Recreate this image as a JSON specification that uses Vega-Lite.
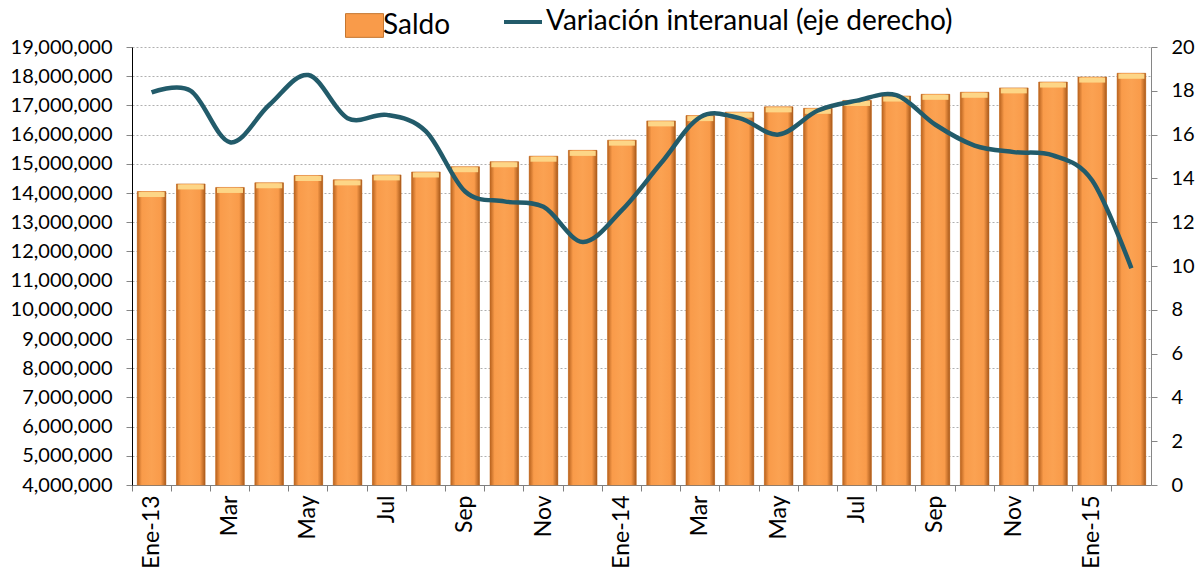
{
  "$schema": "https://vega.github.io/schema/vega-lite/v6.json",
  "width": 1019,
  "height": 438,
  "autosize": {"type": "none"},
  "padding": {"left": 132, "top": 47, "right": 53, "bottom": 92},
  "background": "white",
  "config": {"font": "Lato", "view": {"stroke": null}},
  "data": {
    "values": [
      {"mes": "2013-01", "saldo": 14050000, "var": 17.93},
      {"mes": "2013-02", "saldo": 14310000, "var": 18.0},
      {"mes": "2013-03", "saldo": 14190000, "var": 15.65},
      {"mes": "2013-04", "saldo": 14350000, "var": 17.35},
      {"mes": "2013-05", "saldo": 14600000, "var": 18.72},
      {"mes": "2013-06", "saldo": 14450000, "var": 16.75},
      {"mes": "2013-07", "saldo": 14620000, "var": 16.9},
      {"mes": "2013-08", "saldo": 14720000, "var": 16.15},
      {"mes": "2013-09", "saldo": 14900000, "var": 13.4},
      {"mes": "2013-10", "saldo": 15070000, "var": 12.95},
      {"mes": "2013-11", "saldo": 15260000, "var": 12.7},
      {"mes": "2013-12", "saldo": 15460000, "var": 11.1},
      {"mes": "2014-01", "saldo": 15810000, "var": 12.55},
      {"mes": "2014-02", "saldo": 16470000, "var": 14.7},
      {"mes": "2014-03", "saldo": 16650000, "var": 16.8},
      {"mes": "2014-04", "saldo": 16770000, "var": 16.75},
      {"mes": "2014-05", "saldo": 16950000, "var": 16.0},
      {"mes": "2014-06", "saldo": 16900000, "var": 17.1},
      {"mes": "2014-07", "saldo": 17170000, "var": 17.55},
      {"mes": "2014-08", "saldo": 17320000, "var": 17.8},
      {"mes": "2014-09", "saldo": 17380000, "var": 16.45},
      {"mes": "2014-10", "saldo": 17450000, "var": 15.5},
      {"mes": "2014-11", "saldo": 17600000, "var": 15.2},
      {"mes": "2014-12", "saldo": 17800000, "var": 15.05},
      {"mes": "2015-01", "saldo": 17970000, "var": 13.9},
      {"mes": "2015-02", "saldo": 18100000, "var": 9.9}
    ]
  },
  "encoding": {
    "x": {
      "field": "mes",
      "type": "ordinal",
      "sort": null,
      "scale": {"paddingInner": 0, "paddingOuter": 0},
      "axis": {
        "title": null,
        "bandPosition": 0,
        "labelAngle": 270,
        "labelAlign": "right",
        "labelBaseline": "middle",
        "labelFont": "Lato",
        "labelFontSize": 23,
        "labelColor": "#000000",
        "labelPadding": 4,
        "tickSize": 6,
        "tickColor": "#7F7F7F",
        "domainColor": "#7F7F7F",
        "grid": false,
        "labelExpr": "toNumber(substring(datum.value,5,7)) % 2 == 1 ? (toNumber(substring(datum.value,5,7)) == 1 ? 'Ene-' + substring(datum.value,2,4) : ['','Ene','Feb','Mar','Abr','May','Jun','Jul','Ago','Sep','Oct','Nov','Dic'][toNumber(substring(datum.value,5,7))]) : ''"
      }
    }
  },
  "layer": [
    {
      "encoding": {
        "y": {
          "field": "saldo",
          "type": "quantitative",
          "scale": {"domain": [4000000, 19000000], "nice": false, "zero": false},
          "axis": {
            "title": null,
            "values": [4000000, 5000000, 6000000, 7000000, 8000000, 9000000, 10000000, 11000000, 12000000, 13000000, 14000000, 15000000, 16000000, 17000000, 18000000, 19000000],
            "format": ",d",
            "labelFont": "Lato",
            "labelFontSize": 20,
            "labelColor": "#000000",
            "labelPadding": 14,
            "tickSize": 6,
            "tickColor": "#868686",
            "domainColor": "#000000",
            "grid": true,
            "gridColor": "#B0B0B0",
            "gridDash": [2, 2]
          }
        },
        "y2": {"datum": 4000000}
      },
      "layer": [
        {
          "mark": {"type": "bar", "width": {"band": 0.73}, "stroke": "#C5762F", "strokeWidth": 0.6},
          "encoding": {
            "fill": {
              "datum": "Saldo",
              "type": "nominal",
              "scale": {"range": ["#F99B4A"]},
              "legend": {
                "orient": "none",
                "legendX": 208,
                "legendY": -46,
                "title": null,
                "padding": 0,
                "symbolType": "M-0.8,-0.5H0.8V0.5H-0.8Z",
                "symbolSize": 2256,
                "symbolStrokeColor": "#C5762F",
                "symbolStrokeWidth": 1,
                "symbolOpacity": 1,
                "labelFont": "Lato",
                "labelFontSize": 28,
                "labelColor": "#000000",
                "labelOffset": -6,
                "labelLimit": 0
              }
            }
          }
        },
        {
          "mark": {
            "type": "bar",
            "width": {"band": 0.73},
            "fill": {
              "gradient": "linear", "x1": 0, "x2": 1, "y1": 0, "y2": 0,
              "stops": [
                {"offset": 0, "color": "#B8621E"},
                {"offset": 0.16, "color": "#F99B4A"},
                {"offset": 0.5, "color": "#FBA252"},
                {"offset": 0.82, "color": "#F99B4A"},
                {"offset": 1, "color": "#A9591A"}
              ]
            }
          },
          "encoding": {}
        },
        {
          "mark": {"type": "tick", "size": 26, "thickness": 5, "yOffset": 3, "color": "#FDD98A", "opacity": 0.95},
          "encoding": {"y2": null}
        }
      ]
    },
    {
      "mark": {"type": "line", "interpolate": "cardinal", "strokeWidth": 4.5},
      "encoding": {
        "y": {
          "field": "var",
          "type": "quantitative",
          "scale": {"domain": [0, 20], "nice": false},
          "axis": {
            "orient": "right",
            "title": null,
            "values": [0, 2, 4, 6, 8, 10, 12, 14, 16, 18, 20],
            "labelFont": "Lato",
            "labelFontSize": 20,
            "labelColor": "#000000",
            "labelPadding": 14,
            "tickSize": 6,
            "tickColor": "#868686",
            "domainColor": "#868686",
            "grid": false
          }
        },
        "stroke": {
          "datum": "Variación interanual (eje derecho)",
          "type": "nominal",
          "scale": {"range": ["#225B6A"]},
          "legend": {
            "orient": "none",
            "legendX": 370,
            "legendY": -46,
            "title": null,
            "padding": 0,
            "symbolType": "stroke",
            "symbolSize": 1444,
            "symbolStrokeWidth": 4,
            "labelFont": "Lato",
            "labelFontSize": 28,
            "labelColor": "#000000",
            "labelOffset": 2,
            "labelLimit": 0
          }
        }
      }
    }
  ],
  "resolve": {"scale": {"y": "independent"}}
}
